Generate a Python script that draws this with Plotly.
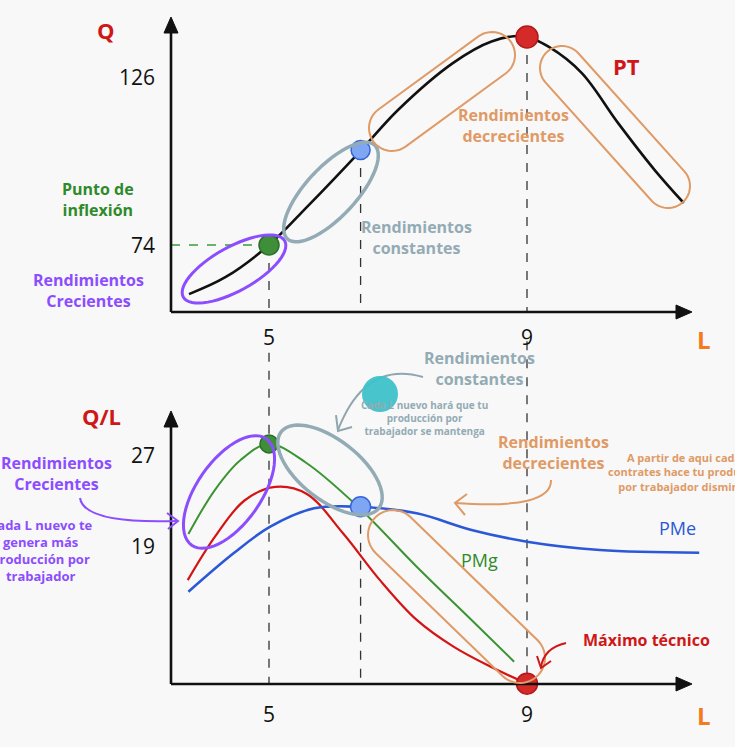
import math
import plotly.graph_objects as go

W, H = 735, 747

# ---------------- data ----------------
# Top panel: producto total PT
L_pt = [3.76, 4.33, 5.0, 5.59, 6.43, 7.0, 7.85, 8.45, 8.95, 9.34, 9.85, 10.41, 10.98, 11.43]
Q_pt = [58.8, 64.1, 74.0, 85.8, 103.4, 115.8, 130.3, 137.0, 138.6, 135.3, 127.2, 111.8, 97.2, 87.0]

# Bottom panel
L_pmg = [3.75, 4.16, 4.56, 5.0, 5.58, 6.38, 7.29, 8.14, 8.80]
PMg = [20.05, 23.92, 26.56, 27.97, 26.30, 22.45, 17.18, 12.49, 8.83]
L_red = [3.74, 4.16, 4.62, 5.10, 5.58, 6.15, 6.72, 7.29, 7.86, 8.43, 9.0]
red_vals = [16.0, 19.8, 23.0, 24.2, 23.6, 20.1, 16.0, 12.5, 10.15, 8.4, 6.9]
L_pme = [3.75, 4.45, 5.02, 5.70, 6.38, 7.29, 8.14, 9.0, 10.13, 11.67]
PMe = [14.98, 18.36, 20.70, 22.31, 22.45, 21.87, 20.41, 19.38, 18.65, 18.41]

# key points: inflexion, constant returns, maximum
L_key = [5.0, 6.42, 9.0]
Q_key = [74.0, 103.4, 138.4]
QL_key = [27.97, 22.45, 6.9]

x_ticks = [5, 9]
q_ticks = [74, 126]
ql_ticks = [19, 27]
Q_axis_min = 53.26   # Q value where the L axis sits (top)
QL_axis_min = 6.9    # Q/L value where the L axis sits (bottom)

# ---------------- scales (pixel anchors) ----------------
sx = 4 / 258.0            # L per px
x_range = [5 - 269 * sx, 5 + (W - 269) * sx]
sy = 52 / 168.0           # Q per px
y_range = [74 - (H - 245) * sy, 74 + 245 * sy]
sy2 = 8 / 91.0
y2_range = [19 - (H - 546) * sy2, 19 + 546 * sy2]

FONT = "Open Sans"
BLACK = "#111111"
PURPLE = "#8c4dff"
GRAYB = "#93abb4"
ORANGE = "#df9a66"
GREEN = "#2f8a2a"
RED = "#cf1717"
BLUE = "#2a58d6"
LORANGE = "#f47a1e"


def P(x, y):
    return f"{x / W:.5f},{1 - y / H:.5f}"


def ellipse_path(cx, cy, a, b, ang_deg, n=60):
    t = math.radians(ang_deg)
    pts = []
    for i in range(n):
        u = 2 * math.pi * i / n
        x = cx + a * math.cos(u) * math.cos(t) - b * math.sin(u) * math.sin(t)
        y = cy + a * math.cos(u) * math.sin(t) + b * math.sin(u) * math.cos(t)
        pts.append(P(x, y))
    return "M " + " L ".join(pts) + " Z"


def capsule_path(x1, y1, x2, y2, r, n=24):
    ang = math.atan2(y2 - y1, x2 - x1)
    pts = []
    for i in range(n + 1):
        u = ang - math.pi / 2 + math.pi * i / n
        pts.append(P(x2 + r * math.cos(u), y2 + r * math.sin(u)))
    for i in range(n + 1):
        u = ang + math.pi / 2 + math.pi * i / n
        pts.append(P(x1 + r * math.cos(u), y1 + r * math.sin(u)))
    return "M " + " L ".join(pts) + " Z"


shapes = []


def add_path(path, color, width, fill=None):
    shapes.append(dict(type="path", xref="paper", yref="paper", path=path,
                       line=dict(color=color, width=width),
                       fillcolor=fill if fill else "rgba(0,0,0,0)"))


def add_line_px(x0, y0, x1, y1, color, width, dash="solid"):
    shapes.append(dict(type="line", xref="paper", yref="paper",
                       x0=x0 / W, y0=1 - y0 / H, x1=x1 / W, y1=1 - y1 / H,
                       line=dict(color=color, width=width, dash=dash)))


def add_vdash(L, y0, y1, yref, color="#333333"):
    shapes.append(dict(type="line", xref="x", yref=yref, x0=L, x1=L, y0=y0, y1=y1,
                       line=dict(color=color, width=1.3, dash="dash"), layer="below"))


# dashed guide lines
add_vdash(L_key[0], Q_key[0], Q_axis_min, "y")
add_vdash(L_key[1], Q_key[1], Q_axis_min, "y")
add_vdash(L_key[2], Q_key[2], Q_axis_min, "y")
add_vdash(L_key[0], 36.0, QL_axis_min, "y2")
add_vdash(L_key[1], QL_key[1], QL_axis_min, "y2")
add_vdash(L_key[2], 37.0, QL_axis_min, "y2")
shapes.append(dict(type="line", xref="x", yref="y", x0=3.48, x1=L_key[0], y0=Q_key[0], y1=Q_key[0],
                   line=dict(color="#3a9a3a", width=1.3, dash="dash"), layer="below"))

# axes with arrowheads
for (yb, yt) in [(312, 31), (684, 425)]:
    add_line_px(171, yb, 171, yt, BLACK, 2.6)
    add_path(f"M {P(171, yt - 14)} L {P(164, yt + 2)} L {P(178, yt + 2)} Z", BLACK, 1, BLACK)
    add_line_px(171, yb, 678, yb, BLACK, 2.6)
    add_path(f"M {P(692, yb)} L {P(676, yb - 7)} L {P(676, yb + 7)} Z", BLACK, 1, BLACK)

# top highlight shapes
add_path(ellipse_path(234, 269, 58, 22, -29), PURPLE, 3)
add_path(ellipse_path(331, 192, 64, 25, -47), GRAYB, 3.5)
add_path(capsule_path(392, 128, 492, 55, 23), ORANGE, 2)
add_path(capsule_path(562, 68, 668, 186, 22), ORANGE, 2)

# bottom highlight shapes
add_path(ellipse_path(229, 492, 65, 32, -55), PURPLE, 3)
add_path(ellipse_path(330, 470, 62, 30, 38), GRAYB, 3.5)
add_path(capsule_path(393, 535, 520, 658, 25), ORANGE, 2)

# hand-drawn arrows
add_path(f"M {P(80, 498)} Q {P(84, 524)} {P(177, 521)}", PURPLE, 2)
add_path(f"M {P(167, 513)} L {P(178, 521)} L {P(168, 529)}", PURPLE, 2)
add_path(f"M {P(423, 377)} Q {P(365, 360)} {P(338, 430)}", "#8fa6ae", 2)
add_path(f"M {P(336, 415)} L {P(338, 431)} L {P(352, 427)}", "#8fa6ae", 2)
add_path(f"M {P(551, 480)} Q {P(552, 510)} {P(455, 503)}", ORANGE, 2)
add_path(f"M {P(467, 494)} L {P(455, 503)} L {P(465, 515)}", ORANGE, 2)
add_path(f"M {P(566, 643)} Q {P(544, 648)} {P(541, 667)}", RED, 2)
add_path(f"M {P(537, 656)} L {P(541, 668)} L {P(551, 661)}", RED, 2)

# teal blob
shapes.append(dict(type="circle", xref="paper", yref="paper",
                   x0=(380 - 18) / W, x1=(380 + 18) / W, y0=1 - (394 + 18) / H, y1=1 - (394 - 18) / H,
                   fillcolor="#3ec1c9", line=dict(width=0), opacity=0.95, layer="above"))

fig = go.Figure()

fig.add_trace(go.Scatter(x=L_pt, y=Q_pt, mode="lines", line=dict(color=BLACK, width=2.6, shape="spline"),
                         yaxis="y", hoverinfo="skip"))
fig.add_trace(go.Scatter(x=L_red, y=red_vals, mode="lines", line=dict(color="#d41414", width=2.2, shape="spline"),
                         yaxis="y2", hoverinfo="skip"))
fig.add_trace(go.Scatter(x=L_pme, y=PMe, mode="lines", line=dict(color=BLUE, width=2.6, shape="spline"),
                         yaxis="y2", hoverinfo="skip"))
fig.add_trace(go.Scatter(x=L_pmg, y=PMg, mode="lines", line=dict(color="#3a9432", width=2.0, shape="spline"),
                         yaxis="y2", hoverinfo="skip"))

mk_fill = ["#3f8f3a", "#7ea6f2", "#d42a2a"]
mk_line = ["#2a6e28", "#3565d8", "#b51818"]
fig.add_trace(go.Scatter(x=L_key, y=Q_key, mode="markers", yaxis="y", hoverinfo="skip",
                         marker=dict(size=[20, 19, 22], color=mk_fill, opacity=1,
                                     line=dict(color=mk_line, width=1.5))))
fig.add_trace(go.Scatter(x=L_key, y=QL_key, mode="markers", yaxis="y2", hoverinfo="skip",
                         marker=dict(size=[18, 20, 21], color=mk_fill, opacity=1,
                                     line=dict(color=mk_line, width=1.5))))

ann = []


def T(x, y, text, color, size, bold=False, xanchor="center"):
    ann.append(dict(x=x / W, y=1 - y / H, xref="paper", yref="paper", text=(f"<b>{text}</b>" if bold else text),
                    showarrow=False, xanchor=xanchor, yanchor="middle",
                    font=dict(family=FONT, size=size, color=color)))


# tick labels from data
for v in x_ticks:
    ann.append(dict(x=v, y=Q_axis_min, xref="x", yref="y", yshift=-25, text=str(v), showarrow=False,
                    font=dict(family=FONT, size=21, color=BLACK)))
    ann.append(dict(x=v, y=QL_axis_min, xref="x", yref="y2", yshift=-30, text=str(v), showarrow=False,
                    font=dict(family=FONT, size=21, color=BLACK)))
for v in q_ticks:
    ann.append(dict(x=3.48, y=v, xref="x", yref="y", xshift=-14, xanchor="right", text=str(v), showarrow=False,
                    font=dict(family=FONT, size=21, color=BLACK)))
for v in ql_ticks:
    ann.append(dict(x=3.48, y=v, xref="x", yref="y2", xshift=-14, xanchor="right", text=str(v), showarrow=False,
                    font=dict(family=FONT, size=21, color=BLACK)))

T(106, 30, "Q", RED, 22, True)
T(101, 416, "Q/L", RED, 22, True)
T(704, 339, "L", LORANGE, 24, True)
T(704, 715, "L", LORANGE, 24, True)
T(626, 66, "PT", RED, 22, True)
T(98, 199, "Punto de<br>inflexión", GREEN, 16, True)
T(88, 291, "Rendimientos<br>Crecientes", PURPLE, 16, True)
T(416, 238, "Rendimientos<br>constantes", GRAYB, 16, True)
T(513, 126, "Rendimientos<br>decrecientes", ORANGE, 16, True)
T(480, 369, "Rendimientos<br>constantes", GRAYB, 16, True)
T(424, 418, "Cada L nuevo hará que tu<br>producción por<br>trabajador se mantenga", GRAYB, 10, True)
T(553, 452, "Rendimientos<br>decrecientes", ORANGE, 16, True)
T(688, 472, "A partir de aqui cada L<br>contrates hace tu producción<br>por trabajador disminuye", ORANGE, 11, True)
T(56, 473, "Rendimientos<br>Crecientes", PURPLE, 16, True)
T(41, 550, "Cada L nuevo te<br>genera más<br>producción por<br>trabajador", PURPLE, 13, True)
T(677, 528, "PMe", BLUE, 18)
T(479, 560, "PMg", GREEN, 18)
T(646, 640, "Máximo técnico", RED, 16, True)

ax_hidden = dict(visible=False, showgrid=False, zeroline=False, fixedrange=True)
fig.update_layout(
    width=W, height=H,
    margin=dict(l=0, r=0, t=0, b=0),
    paper_bgcolor="#f8f8f8", plot_bgcolor="#f8f8f8",
    showlegend=False,
    xaxis=dict(range=x_range, domain=[0, 1], **ax_hidden),
    yaxis=dict(range=y_range, domain=[0, 1], **ax_hidden),
    yaxis2=dict(range=y2_range, overlaying="y", **ax_hidden),
    shapes=shapes,
    annotations=ann,
)

fig.write_html("out.html", config={"displayModeBar": False},
               post_script="document.body.style.margin='0';document.body.style.padding='0';")
